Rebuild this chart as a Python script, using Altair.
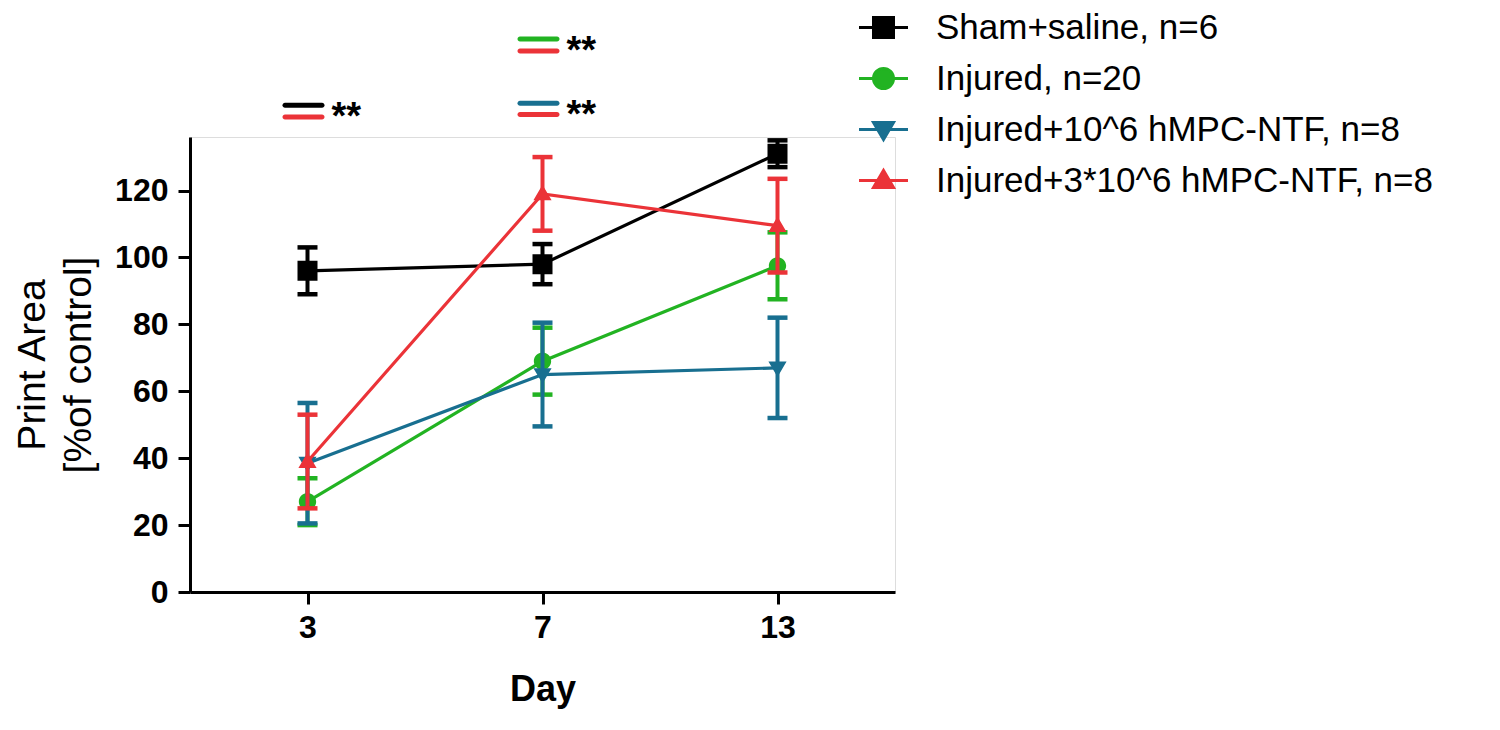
import altair as alt
import pandas as pd

# ---------------- data ----------------
days = ["3", "7", "13"]
keys = ["sham", "injured", "low", "high"]
labels = [
    "Sham+saline, n=6",
    "Injured, n=20",
    "Injured+10^6 hMPC-NTF, n=8",
    "Injured+3*10^6 hMPC-NTF, n=8",
]

sham_mean = [96, 98, 131]
sham_sem = [7, 6, 4]
injured_mean = [27, 69, 97.5]
injured_sem = [7, 10, 10]
low_mean = [38.5, 65, 67]
low_sem = [18, 15.5, 15]
high_mean = [39, 119, 109.5]
high_sem = [14, 11, 14]

# significance bars (day, group, level) and asterisks
sig_day = ["3", "3", "7", "7", "7", "7"]
sig_key = ["sham", "high", "injured", "high", "low", "high"]
sig_y = [145.5, 142.0, 165.3, 161.7, 146.1, 142.7]
star_day = ["3", "7", "7"]
star_text = ["**", "**", "**"]

# ---------------- styles ----------------
colors = ["#000000", "#22b322", "#186f90", "#eb3338"]
# symbol paths: a horizontal legend line (stroked only) plus a filled marker
shapes = [
    "M-2.45,0H2.45M-1,-1H1V1H-1Z",
    "M-2.45,0H2.45M1,0A1,1,0,1,1,-1,0A1,1,0,1,1,1,0Z",
    "M-2.45,0H2.45M-1,-0.7L1,-0.7L0,1Z",
    "M-2.45,0H2.45M-1,0.7L1,0.7L0,-1Z",
]
marker_size = {"sham": 400, "injured": 300, "low": 330, "high": 330}
FONT = "Liberation Sans"

means = {"sham": sham_mean, "injured": injured_mean, "low": low_mean, "high": high_mean}
sems = {"sham": sham_sem, "injured": injured_sem, "low": low_sem, "high": high_sem}
label_of = dict(zip(keys, labels))

rows = []
for k in keys:
    for d, m, s in zip(days, means[k], sems[k]):
        rows.append({"key": k, "label": label_of[k], "day": d, "mean": m, "lo": m - s, "hi": m + s})
df = pd.DataFrame(rows)

sig_df = pd.DataFrame({"day": sig_day, "key": sig_key, "y": sig_y})
star_y = [(sig_y[2 * i] + sig_y[2 * i + 1]) / 2 for i in range(len(star_day))]
star_df = pd.DataFrame({"day": star_day, "y": star_y, "t": star_text})

# ---------------- scales / encodings ----------------
xscale = alt.Scale(type="point", domain=days, padding=0.5)
xaxis = alt.Axis(
    title="Day", labelAngle=0, labelFont=FONT, labelFontSize=32, labelFontWeight="bold",
    labelColor="black", titleFont=FONT, titleFontSize=36, titleFontWeight="bold",
    titleColor="black", tickSize=12, tickWidth=3, tickColor="black", domainWidth=3,
    domainColor="black", labelPadding=8, titlePadding=29, grid=False,
)
yscale = alt.Scale(domain=[0, 136], nice=False, zero=True)
yaxis = alt.Axis(
    title=["Print Area", "[%of control]"], values=[0, 20, 40, 60, 80, 100, 120],
    labelFont=FONT, labelFontSize=32, labelFontWeight="bold", labelColor="black",
    titleFont=FONT, titleFontSize=39, titleFontWeight="normal", titleColor="black",
    titleLineHeight=46, titlePadding=16, tickSize=12, tickWidth=3, tickColor="black",
    domainWidth=3, domainColor="black", labelPadding=10, grid=False,
)


def X():
    return alt.X("day:O", scale=xscale, axis=xaxis)


def Y(field):
    return alt.Y(f"{field}:Q", scale=yscale, axis=yaxis)


color_scale = alt.Scale(domain=keys, range=colors)          # lines, bars, caps
legend_color_scale = alt.Scale(domain=labels, range=colors)  # markers + legend
shape_scale = alt.Scale(domain=labels, range=shapes)

legend = alt.Legend(
    title=None, orient="none", legendX=676, legendY=-127, symbolSize=400,
    symbolStrokeWidth=3, symbolOpacity=1, labelFont=FONT, labelFontSize=35,
    labelColor="black", labelOffset=35, rowPadding=15, padding=0, labelLimit=800,
)


def C():
    return alt.Color("key:N", scale=color_scale, legend=None)


def F():
    return alt.Fill("label:N", scale=legend_color_scale, legend=legend)


def ST():
    return alt.Stroke("label:N", scale=legend_color_scale, legend=legend)


def SH():
    return alt.Shape("label:N", scale=shape_scale, legend=legend)


base = alt.Chart(df)
layers = []
for k in keys:
    g = base.transform_filter(alt.datum.key == k)
    layers.append(g.mark_line(strokeWidth=3.2).encode(x=X(), y=Y("mean"), color=C()))
    layers.append(g.mark_rule(strokeWidth=4).encode(x=X(), y=Y("lo"), y2="hi:Q", color=C()))
    layers.append(g.mark_tick(thickness=4.5, size=20, opacity=1).encode(x=X(), y=Y("lo"), color=C()))
    layers.append(g.mark_tick(thickness=4.5, size=20, opacity=1).encode(x=X(), y=Y("hi"), color=C()))
    layers.append(
        g.mark_point(filled=True, size=marker_size[k], opacity=1).encode(
            x=X(), y=Y("mean"), fill=F(), stroke=ST(), shape=SH(),
            strokeWidth=alt.value(0),
        )
    )

sig = alt.Chart(sig_df).mark_tick(
    thickness=5, size=42, xOffset=-4, cornerRadius=2.5, opacity=1
).encode(x=X(), y=Y("y"), color=C())

stars = alt.Chart(star_df).mark_text(
    font=FONT, fontSize=38, fontWeight="bold", align="left", baseline="middle",
    dx=24, dy=7, color="black",
).encode(x=X(), y=Y("y"), text="t:N")

chart = (
    alt.layer(*layers, sig, stars)
    .properties(
        width=705, height=455,
        autosize=alt.AutoSizeParams(type="none"),
        padding={"left": 182, "top": 129, "right": 595, "bottom": 125},
    )
    .configure_view(stroke=None)
    .configure(background="white")
)

chart.save("out.html", embed_options={"renderer": "svg", "actions": False})
